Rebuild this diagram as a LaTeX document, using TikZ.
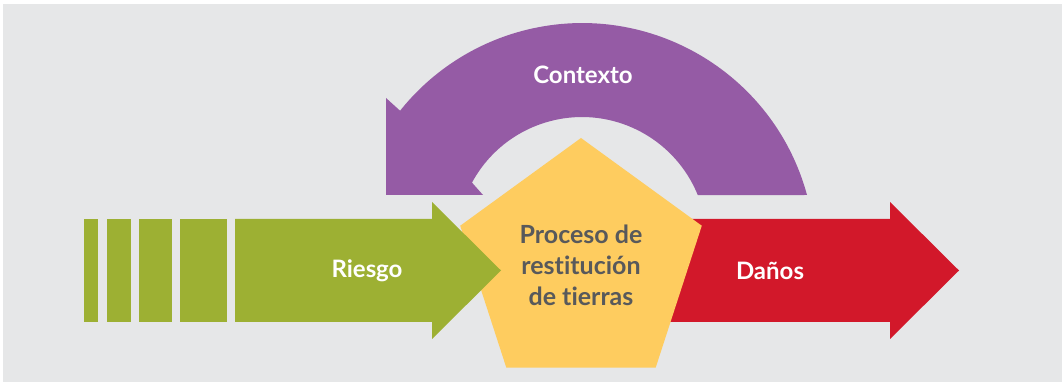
\documentclass[tikz,border=0pt]{standalone}
\usepackage{fontspec}
\setmainfont{Lato}[Ligatures={NoCommon}]
\usetikzlibrary{shapes.geometric}
\definecolor{panelGray}{HTML}{E6E7E8}
\definecolor{riesgoGreen}{HTML}{9DB033}
\definecolor{contextoPurple}{HTML}{955BA5}
\definecolor{procesoYellow}{HTML}{FECC5F}
\definecolor{danosRed}{HTML}{D2182A}
\definecolor{textGray}{HTML}{58595B}
\begin{document}
\begin{tikzpicture}
[x=1pt,y=1pt,
  labelDecorate/.style={text=white,font=\fontsize{24}{28}\selectfont\bfseries},%
  pentDecorate/.style={shape=regular polygon,regular polygon sides=5,
    minimum size=254pt,inner sep=0pt,fill=procesoYellow,text=textGray,
    align=center,font=\fontsize{25}{31}\selectfont\bfseries}]
%% panel
\useasboundingbox (0,0) rectangle (1063,382);
\fill[white] (0,0) rectangle (1063,382);
\fill[panelGray] (3,0) rectangle (1062,378);
%% context arrow
\fill[contextoPurple] (807,187) arc (15.2:141.4:233) -- (386,284) -- (386,187)
  -- (483,187) -- (472,199.4) arc (151.6:22:125) -- cycle;
%% damage arrow
\fill[danosRed] (640,60) -- (890,60) -- (890,43) -- (959,111.5) -- (890,180)
  -- (890,163) -- (640,163) -- cycle;
%% process
\node (proceso) at (581,117) [pentDecorate] {Proceso de\\restitución\\de tierras};
%% risk arrow
\foreach \xa/\xb in {84/98, 107/131, 139/172, 180/227}
{
  \fill[riesgoGreen] (\xa,60) rectangle (\xb,163);
}
\fill[riesgoGreen] (235,60) -- (432,60) -- (432,43) -- (501,111.5) -- (432,180)
  -- (432,163) -- (235,163) -- cycle;
%% labels
\node (riesgo) at (367,111) [labelDecorate] {Riesgo};
\node (danos) at (770,111) [labelDecorate] {Daños};
\node (contexto) at (583,307) [labelDecorate] {Contexto};
\end{tikzpicture}
\end{document}
